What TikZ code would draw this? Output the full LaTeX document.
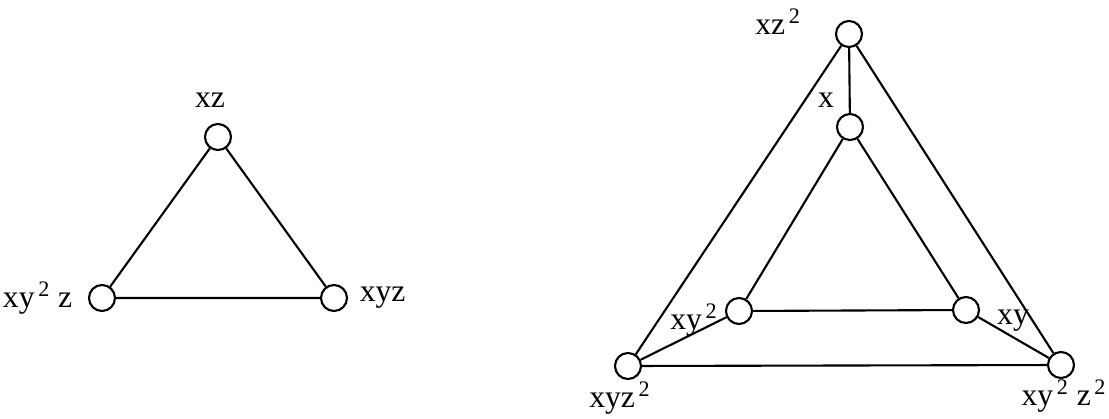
\documentclass[tikz,border=0pt]{standalone}
\usepackage{fontspec}
\setmainfont{Liberation Serif}
\usepackage{tikz}

\begin{document}
\begin{tikzpicture}[x=0.02cm, y=-0.02cm, line width=1.2pt,
    vert/.style={circle, draw, fill=white, minimum size=0.52cm, inner sep=0pt},
    lab/.style={font=\fontsize{18}{20}\selectfont, inner sep=1pt}]
    \useasboundingbox (0,0) rectangle (1109,419);
    % Triangle de l'esquerra
    \node[vert] (a1) at (218,137) {};
    \node[vert] (a2) at (102,298) {};
    \node[vert] (a3) at (334,298) {};
    \draw (a1) -- (a2) -- (a3) -- (a1);
    \node[lab] (la1) at (210,100) {xz};
    \node[lab, left] (la2) at (75,298) {xy\textsuperscript{\,2} z};
    \node[lab, right] (la3) at (357,298) {xyz};
    % Triangle de la dreta: exterior i interior
    \node[vert] (b1) at (849,34) {};
    \node[vert] (b2) at (628,366) {};
    \node[vert] (b3) at (1061,365) {};
    \node[vert] (c1) at (850,127) {};
    \node[vert] (c2) at (739,311) {};
    \node[vert] (c3) at (966,310) {};
    \foreach \u/\v in {b1/b2, b2/b3, b3/b1, c1/c2, c2/c3, c3/c1, b1/c1, b2/c2, b3/c3}
        \draw (\u) -- (\v);
    \node[lab] (lb1) at (778,22) {xz\textsuperscript{\,2}};
    \node[lab] (lb2) at (620,398) {xyz\textsuperscript{\,2}};
    \node[lab] (lb3) at (1064,396) {xy\textsuperscript{\,2} z\textsuperscript{\,2}};
    \node[lab] (lc1) at (826,100) {x};
    \node[lab] (lc2) at (694,320) {xy\textsuperscript{\,2}};
    \node[lab] (lc3) at (1013,321) {xy};
\end{tikzpicture}
\end{document}
